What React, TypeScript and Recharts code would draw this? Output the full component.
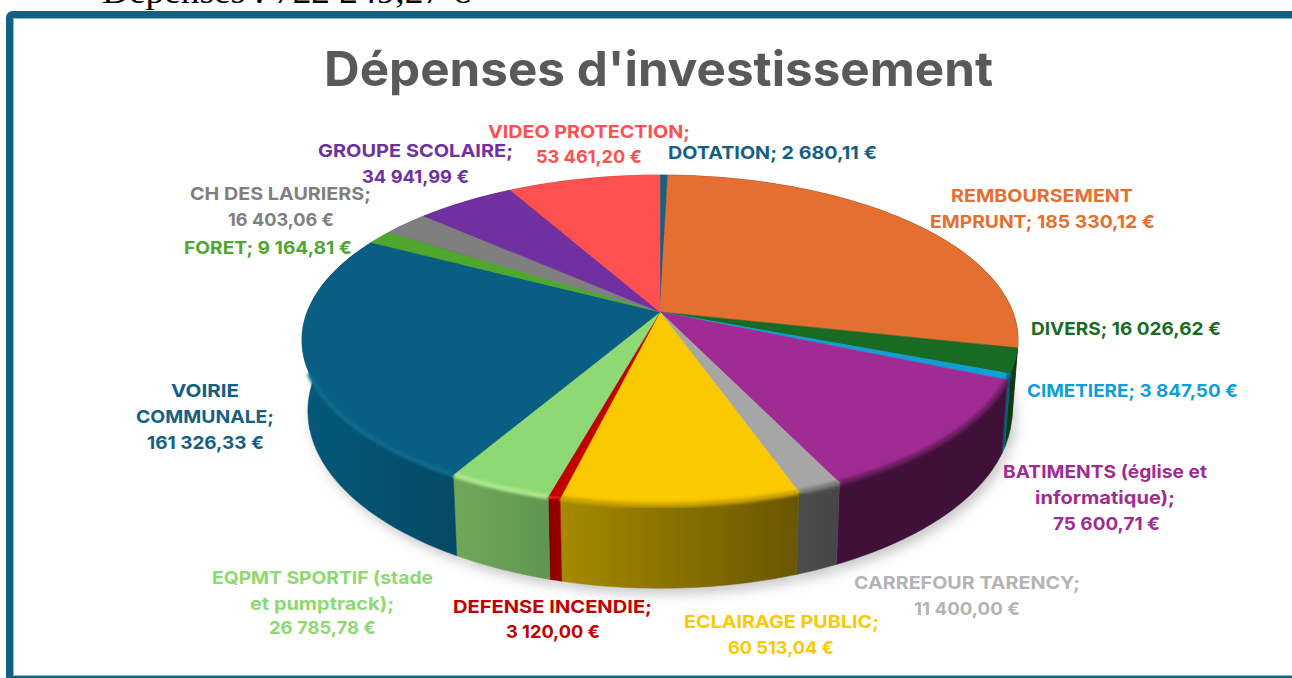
import { PieChart, Pie } from "recharts";

const categories = [
  "DOTATION",
  "REMBOURSEMENT EMPRUNT",
  "DIVERS",
  "CIMETIERE",
  "BATIMENTS (église et informatique)",
  "CARREFOUR TARENCY",
  "ECLAIRAGE PUBLIC",
  "DEFENSE INCENDIE",
  "EQPMT SPORTIF (stade et pumptrack)",
  "VOIRIE COMMUNALE",
  "FORET",
  "CH DES LAURIERS",
  "GROUPE SCOLAIRE",
  "VIDEO PROTECTION",
];

const values = [
  2680.11, 185330.12, 16026.62, 3847.5, 75600.71, 11400, 60513.04, 3120, 26785.78, 161326.33,
  9164.81, 16403.06, 34941.99, 53461.2,
];

const topColors = [
  "#156082", "#e56f30", "#196b24", "#0f9ed5", "#a02b93", "#a6a6a6", "#fbc900",
  "#c00000", "#8ed973", "#085f83", "#4ea72e", "#7f7f7f", "#7030a0", "#ff5050",
];

// left / right shade of the side wall
const wallColors = [
  ["#0b3a4f", "#0b3a4f"], ["#5a2a10", "#3c1c0a"], ["#0b3a12", "#0b3a12"], ["#085a7a", "#085a7a"],
  ["#401038", "#3f1038"], ["#4c4c4c", "#464646"], ["#a68a00", "#695600"], ["#8a0000", "#960000"],
  ["#70a85a", "#5f9650"], ["#055878", "#044a66"], ["#2c601a", "#2c601a"], ["#4a4a4a", "#4a4a4a"],
  ["#40205c", "#40205c"], ["#8c2c2c", "#8c2c2c"],
];

const bevelColors = [
  "#156082", "#7a3a15", "#0b3a12", "#085a7a", "#6a1e60", "#7a7a7a", "#c8a200",
  "#e01818", "#aee88e", "#0a6a8e", "#4ea72e", "#7f7f7f", "#7030a0", "#ff5050",
];

const labelLines = [
  ["DOTATION; 2 680,11 €"],
  ["REMBOURSEMENT", "EMPRUNT; 185 330,12 €"],
  ["DIVERS; 16 026,62 €"],
  ["CIMETIERE; 3 847,50 €"],
  ["BATIMENTS (église et", "informatique);", "75 600,71 €"],
  ["CARREFOUR TARENCY;", "11 400,00 €"],
  ["ECLAIRAGE PUBLIC;", "60 513,04 €"],
  ["DEFENSE INCENDIE;", "3 120,00 €"],
  ["EQPMT SPORTIF (stade", "et pumptrack);", "26 785,78 €"],
  ["VOIRIE", "COMMUNALE;", "161 326,33 €"],
  ["FORET; 9 164,81 €"],
  ["CH DES LAURIERS;", "16 403,06 €"],
  ["GROUPE SCOLAIRE;", "34 941,99 €"],
  ["VIDEO PROTECTION;", "53 461,20 €"],
];

// [left, right, baseline] of every label line
const labelBoxes = [
  [[668, 877, 159]],
  [[951, 1133, 202], [930, 1155, 228]],
  [[1031, 1221, 335]],
  [[1027, 1238, 397]],
  [[1003, 1207, 478], [1035, 1175, 504], [1053, 1160, 530]],
  [[854, 1080, 589], [914, 1020, 615]],
  [[684, 879, 628], [728, 834, 654]],
  [[453, 652, 613], [506, 600, 638]],
  [[212, 433, 584], [250, 394, 610], [269, 376, 634]],
  [[171, 239, 397], [136, 274, 423], [147, 264, 449]],
  [[184, 352, 254]],
  [[190, 371, 200], [228, 334, 226]],
  [[318, 513, 157], [362, 469, 183]],
  [[488, 690, 138], [536, 642, 163]],
];

const labelColors = topColors.map((c, i) => (i === 5 ? "#b4b4b4" : i === 9 ? "#156082" : c));

const tableData = categories.map((name, i) => ({ name, value: values[i] }));

const CX = 660;
const CY = 312;
const TILT = 0.17;
// perspective discs: top face and bottom face of the cake
const TOP_DISC = { ax: 352.8, ay: 160.2, y: CY };
const LOW_DISC = { ax: 347, ay: 172, y: 381 };

type Disc = typeof TOP_DISC;

function project(disc: Disc, deg: number) {
  const t = ((90 - deg) * Math.PI) / 180;
  const u = Math.sin(t);
  const v = -Math.cos(t);
  const w = 1 - TILT * v;
  return { x: CX + (disc.ax * u) / w, y: disc.y + (disc.ay * v) / w };
}

function arcPoints(disc: Disc, from: number, to: number) {
  const steps = Math.max(2, Math.ceil(Math.abs(to - from)));
  const pts = [];
  for (let i = 0; i <= steps; i++) pts.push(project(disc, from + ((to - from) * i) / steps));
  return pts;
}

const toPath = (pts: { x: number; y: number }[]) =>
  pts.map((p, i) => `${i === 0 ? "M" : "L"}${p.x.toFixed(1)},${p.y.toFixed(1)}`).join(" ");

const indexOf = (props: any) => categories.indexOf(props.name ?? props.payload?.name);

function ShadowSector(props: any) {
  const pts = arcPoints(LOW_DISC, props.startAngle, props.endAngle).map((p) => ({
    x: p.x + 4,
    y: p.y + 6,
  }));
  return <path d={`${toPath(pts)} L${CX},381 Z`} fill="#c8c8c8" filter="url(#groundBlur)" />;
}

function WallSector(props: any) {
  const i = indexOf(props);
  const top = arcPoints(TOP_DISC, props.startAngle, props.endAngle);
  const low = arcPoints(LOW_DISC, props.endAngle, props.startAngle);
  const x0 = Math.min(...top.map((p) => p.x));
  const x1 = Math.max(...top.map((p) => p.x));
  const id = `wall-${i}`;
  return (
    <g>
      <defs>
        <linearGradient id={id} gradientUnits="userSpaceOnUse" x1={x0} x2={x1} y1={0} y2={0}>
          <stop offset="0%" stopColor={wallColors[i][0]} />
          <stop offset="100%" stopColor={wallColors[i][1]} />
        </linearGradient>
      </defs>
      <path d={`${toPath(top)} L${toPath(low).slice(1)} Z`} fill={`url(#${id})`} stroke={`url(#${id})`} strokeWidth={0.5} />
    </g>
  );
}

function TopSector(props: any) {
  const i = indexOf(props);
  const rim = arcPoints(TOP_DISC, props.startAngle, props.endAngle);
  // the soft edge only shows along the front of the cake
  const front = rim.filter((p) => p.y > 372);
  return (
    <g>
      <path d={`${toPath(rim)} L${CX},${CY} Z`} fill={topColors[i]} stroke={topColors[i]} strokeWidth={0.5} />
      {front.length > 1 && (
        <path d={toPath(front)} fill="none" stroke={bevelColors[i]} strokeWidth={5} filter="url(#rimBlur)" />
      )}
    </g>
  );
}

function renderLabel(props: any) {
  const i = props.index;
  return (
    <g>
      {labelLines[i].map((line, k) => {
        const [left, right, base] = labelBoxes[i][k];
        return (
          <text
            key={k}
            x={left}
            y={base}
            textLength={right - left}
            lengthAdjust="spacingAndGlyphs"
            fill={labelColors[i]}
            fontFamily="Inter"
            fontWeight={700}
            fontSize={18}
          >
            {line}
          </text>
        );
      })}
    </g>
  );
}

export default function App() {
  return (
    <div style={{ position: "absolute", left: 0, top: 0, width: 1292, height: 678, background: "#fff" }}>
      <PieChart width={1292} height={678} margin={{ top: 0, right: 0, bottom: 0, left: 0 }}>
        <defs>
          <filter id="groundBlur" x="-20%" y="-20%" width="140%" height="140%">
            <feGaussianBlur stdDeviation="6" />
          </filter>
          <filter id="rimBlur" x="-20%" y="-20%" width="140%" height="140%">
            <feGaussianBlur stdDeviation="1.5" />
          </filter>
        </defs>
        <text x={102} y={3} textLength={368} lengthAdjust="spacingAndGlyphs" fontFamily="Liberation Serif" fontSize={34} fill="#000">
          Dépenses : 722 249,27 €
        </text>
        <rect x={9.5} y={14.5} width={1400} height={665} rx={3} fill="#fff" stroke="#156082" strokeWidth={7} />
        <rect x={13.5} y={18.5} width={1400} height={657} fill="none" stroke="#8fb8cc" strokeWidth={1} />
        <text x={324} y={86} textLength={669} lengthAdjust="spacingAndGlyphs" fontFamily="Inter" fontWeight={700} fontSize={48} fill="#595959">
          Dépenses d'investissement
        </text>
        <Pie
          data={tableData}
          dataKey="value"
          nameKey="name"
          cx={CX}
          cy={CY}
          outerRadius={160}
          startAngle={90}
          endAngle={-270}
          shape={ShadowSector}
          isAnimationActive={false}
        />
        <Pie
          data={tableData}
          dataKey="value"
          nameKey="name"
          cx={CX}
          cy={CY}
          outerRadius={160}
          startAngle={90}
          endAngle={-270}
          shape={WallSector}
          isAnimationActive={false}
        />
        <Pie
          data={tableData}
          dataKey="value"
          nameKey="name"
          cx={CX}
          cy={CY}
          outerRadius={160}
          startAngle={90}
          endAngle={-270}
          shape={TopSector}
          label={renderLabel}
          labelLine={false}
          isAnimationActive={false}
        />
      </PieChart>
    </div>
  );
}
